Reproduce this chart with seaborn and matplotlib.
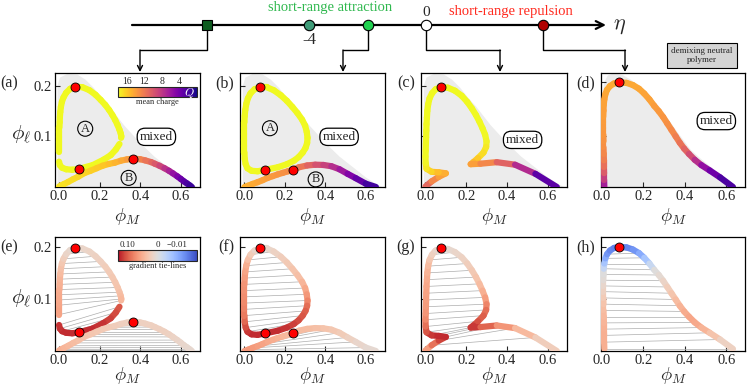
import numpy as np
import matplotlib
matplotlib.use("Agg")
import matplotlib.pyplot as plt
import seaborn as sns
from matplotlib.collections import LineCollection
from matplotlib.colors import Normalize, TwoSlopeNorm
from matplotlib.colorbar import ColorbarBase

nan = np.nan

# ---------------- data ----------------
# eta values of the markers on the top axis
eta_vals = [-7.5, -4, -2, 0, 4]
eta_marker = ["s", "o", "o", "o", "o"]
eta_color = ["#0d5c1f", "#3e9b78", "#1fd14f", "white", "#b00000"]

# column (a)/(e): region A (closed loop), both branches start at the upper critical point
aA_left_phiM = [0.08, 0.055, 0.035, 0.022, 0.014, 0.009, 0.006, 0.004, 0.003, 0.002, 0.002, 0.002, 0.002, 0.002,
                nan, 0.0, 0.004, 0.015, 0.035, 0.065, 0.10]
aA_left_phil = [0.198, 0.194, 0.186, 0.177, 0.168, 0.158, 0.148, 0.138, 0.128, 0.118, 0.108, 0.098, 0.088, 0.07,
                nan, 0.05, 0.043, 0.038, 0.035, 0.034, 0.036]
aA_right_phiM = [0.08, 0.115, 0.15, 0.18, 0.205, 0.228, 0.247, 0.263, 0.277, 0.289, 0.298, 0.304, 0.307, 0.306,
                 nan, 0.298, 0.28, 0.255, 0.22, 0.165, 0.10]
aA_right_phil = [0.198, 0.197, 0.191, 0.182, 0.172, 0.162, 0.152, 0.142, 0.132, 0.122, 0.113, 0.106, 0.1, 0.097,
                 nan, 0.085, 0.074, 0.063, 0.054, 0.043, 0.036]
aA_left_Q = [18] * 21
aA_right_Q = [18] * 21
aA_left_G = [0.01, 0.012, 0.018, 0.025, 0.032, 0.038, 0.043, 0.047, 0.05, 0.052, 0.054, 0.055, 0.057, 0.06,
             nan, 0.115, 0.12, 0.12, 0.12, 0.12, 0.12]
aA_right_G = [0.01, 0.012, 0.015, 0.018, 0.02, 0.022, 0.025, 0.027, 0.03, 0.032, 0.035, 0.038, 0.042, 0.045,
              nan, 0.1, 0.105, 0.11, 0.115, 0.12, 0.12]
# region B (lower dome)
aB_left_phiM = [0.365, 0.335, 0.305, 0.275, 0.245, 0.215, 0.185, 0.155, 0.125, 0.095, 0.07, 0.045, 0.025, 0.01, 0.0]
aB_left_phil = [0.056, 0.0545, 0.052, 0.048, 0.0455, 0.042, 0.037, 0.032, 0.0275, 0.0205, 0.0155, 0.01, 0.006, 0.003, 0.001]
aB_right_phiM = [0.365, 0.40, 0.425, 0.455, 0.472, 0.495, 0.52, 0.542, 0.561, 0.583, 0.60, 0.616, 0.631, 0.645, 0.655]
aB_right_phil = [0.056, 0.0548, 0.0525, 0.049, 0.046, 0.042, 0.037, 0.032, 0.027, 0.021, 0.016, 0.011, 0.007, 0.003, 0.0]
aB_left_Q = [13.5, 14.2, 14.8, 15.2, 15.6, 15.9, 16.1, 16.3, 16.5, 16.7, 16.8, 16.9, 17, 17, 17]
aB_right_Q = [13.5, 12.8, 12.2, 11.2, 10.6, 9.6, 8.3, 7.2, 6.2, 5, 4, 3.3, 2.5, 1.8, 1.2]
aB_left_G = [0.02, 0.02, 0.022, 0.024, 0.025, 0.027, 0.03, 0.032, 0.035, 0.038, 0.04, 0.044, 0.047, 0.05, 0.05]
aB_right_G = [0.02, 0.02, 0.02, 0.02, 0.02, 0.02, 0.02, 0.02, 0.018, 0.016, 0.014, 0.012, 0.011, 0.01, 0.01]
crit_a_phiM = [0.08, 0.10, 0.365]
crit_a_phil = [0.198, 0.036, 0.056]

# column (b)/(f)
bA_left_phiM = [0.076, 0.05, 0.03, 0.017, 0.009, 0.004, 0.001, 0.0, 0.0, 0.0, 0.0, 0.0, 0.0, 0.001, 0.006,
                0.015, 0.035, 0.065, 0.104]
bA_left_phil = [0.197, 0.193, 0.185, 0.175, 0.164, 0.152, 0.14, 0.128, 0.116, 0.104, 0.092, 0.08, 0.068, 0.056, 0.045,
                0.037, 0.032, 0.031, 0.034]
bA_right_phiM = [0.076, 0.11, 0.145, 0.18, 0.21, 0.237, 0.262, 0.285, 0.3, 0.308, 0.312, 0.31, 0.302, 0.288, 0.268,
                 0.245, 0.21, 0.165, 0.104]
bA_right_phil = [0.197, 0.197, 0.191, 0.181, 0.17, 0.158, 0.146, 0.133, 0.121, 0.109, 0.097, 0.087, 0.077, 0.068, 0.059,
                 0.052, 0.045, 0.039, 0.034]
bA_left_Q = [18] * 19
bA_right_Q = [18] * 19
bA_left_G = [0.01, 0.02, 0.03, 0.045, 0.055, 0.06, 0.065, 0.07, 0.07, 0.075, 0.075, 0.08, 0.085, 0.1, 0.11,
             0.12, 0.12, 0.12, 0.12]
bA_right_G = [0.01, 0.012, 0.015, 0.02, 0.025, 0.03, 0.035, 0.04, 0.05, 0.06, 0.07, 0.085, 0.095, 0.1, 0.105,
              0.11, 0.115, 0.12, 0.12]
bB_left_phiM = [0.238, 0.215, 0.19, 0.165, 0.14, 0.115, 0.09, 0.065, 0.04, 0.018, 0.0]
bB_left_phil = [0.034, 0.031, 0.028, 0.025, 0.0215, 0.018, 0.0135, 0.0095, 0.006, 0.0025, 0.0]
bB_right_phiM = [0.238, 0.27, 0.31, 0.35, 0.39, 0.43, 0.47, 0.51, 0.55, 0.6, 0.65]
bB_right_phil = [0.034, 0.039, 0.0425, 0.044, 0.0435, 0.041, 0.035, 0.026, 0.0175, 0.0065, 0.0]
bB_left_Q = [13, 13.2, 13.4, 13.6, 13.8, 14, 14.2, 14.4, 14.6, 14.8, 15]
bB_right_Q = [13, 12.3, 11.2, 10.2, 9.2, 8.1, 6.8, 5.4, 4, 2.5, 1.2]
bB_left_G = [0.04, 0.043, 0.046, 0.05, 0.053, 0.056, 0.06, 0.063, 0.065, 0.065, 0.06]
bB_right_G = [0.04, 0.04, 0.04, 0.038, 0.035, 0.032, 0.028, 0.022, 0.016, 0.01, 0.008]
crit_b_phiM = [0.076, 0.104, 0.238]
crit_b_phil = [0.197, 0.034, 0.034]

# column (c)/(g)
c_left_phiM = [0.074, 0.05, 0.032, 0.02, 0.013, 0.009, 0.007, 0.005, 0.004, 0.003, 0.002, 0.001, 0.0, 0.001, 0.005,
               0.03, 0.065, 0.1, 0.065, 0.03, 0.0]
c_left_phil = [0.197, 0.193, 0.185, 0.175, 0.163, 0.15, 0.137, 0.124, 0.111, 0.098, 0.085, 0.072, 0.06, 0.047, 0.036,
               0.03, 0.029, 0.027, 0.02, 0.011, 0.001]
c_right_phiM = [0.074, 0.11, 0.145, 0.178, 0.205, 0.228, 0.248, 0.265, 0.28, 0.293, 0.3, 0.298, 0.285, 0.258, 0.235,
                0.222, 0.27, 0.35, 0.44, 0.54, 0.645]
c_right_phil = [0.197, 0.196, 0.19, 0.18, 0.168, 0.155, 0.142, 0.129, 0.116, 0.103, 0.09, 0.079, 0.068, 0.057, 0.049,
                0.045, 0.046, 0.049, 0.044, 0.026, 0.0]
c_left_Q = [18] * 13 + [17.5, 17, 16, 15, 14.5, 13.5, 12, 10]
c_right_Q = [18] * 10 + [17.8, 17.5, 17, 16.5, 15.5, 14.5, 13.5, 12, 9.5, 5, 1]
c_left_G = [0.01, 0.015, 0.025, 0.035, 0.045, 0.05, 0.055, 0.058, 0.06, 0.062, 0.065, 0.07, 0.08, 0.095, 0.11,
            0.12, 0.12, 0.12, 0.1, 0.075, 0.05]
c_right_G = [0.01, 0.01, 0.012, 0.015, 0.02, 0.025, 0.03, 0.035, 0.045, 0.055, 0.07, 0.085, 0.095, 0.1, 0.11,
             0.12, 0.11, 0.08, 0.055, 0.03, 0.015]
crit_c_phiM = [0.074]
crit_c_phil = [0.197]

# column (d)/(h): demixing neutral polymer
d_left_phiM = [0.085, 0.06, 0.04, 0.026, 0.018, 0.013, 0.01, 0.009, 0.008, 0.008, 0.008, 0.008, 0.009, 0.009, 0.01,
               0.011, 0.011, 0.012, 0.012, 0.013]
d_left_phil = [0.2, 0.198, 0.193, 0.186, 0.178, 0.168, 0.158, 0.147, 0.136, 0.125, 0.114, 0.102, 0.09, 0.078, 0.066,
               0.054, 0.042, 0.03, 0.017, 0.004]
d_right_phiM = [0.085, 0.12, 0.15, 0.18, 0.205, 0.23, 0.253, 0.275, 0.296, 0.316, 0.336, 0.356, 0.376, 0.397, 0.42,
                0.448, 0.48, 0.52, 0.57, 0.632]
d_right_phil = [0.2, 0.199, 0.195, 0.188, 0.179, 0.168, 0.156, 0.146, 0.135, 0.123, 0.111, 0.099, 0.087, 0.076, 0.066,
                0.055, 0.045, 0.035, 0.022, 0.004]
d_left_Q = [14.5] * 4 + [14.3, 14.2, 14.1, 14, 14, 13.8, 13.7, 13.5, 13.3, 13, 12.5, 12, 11, 9.5, 7.5, 5.5]
d_right_Q = [14.5, 14.5, 14.5, 14.4, 14.3, 14.2, 14, 13.8, 13.6, 13.3, 13, 12.6, 12, 11.3, 10.3, 8.5, 6.5, 4.5, 3, 1.5]
d_left_G = [-0.015, -0.015, -0.014, -0.012, -0.009, -0.005, -0.002, 0.002, 0.008, 0.015, 0.022, 0.03, 0.036, 0.04,
            0.044, 0.047, 0.05, 0.05, 0.05, 0.05]
d_right_G = [-0.015, -0.015, -0.014, -0.012, -0.009, -0.005, -0.001, 0.004, 0.012, 0.02, 0.028, 0.036, 0.044, 0.05,
             0.055, 0.057, 0.052, 0.04, 0.025, 0.012]
crit_d_phiM = [0.085]
crit_d_phil = [0.2]

# grey unstable envelope (row 1)
env_abc_phiM = [-0.008, -0.008, 0.005, 0.04, 0.09, 0.13, 0.17, 0.21, 0.25, 0.32, 0.40, 0.47, 0.54, 0.60, 0.65, 0.68]
env_abc_phil = [0.0, 0.2, 0.216, 0.223, 0.222, 0.212, 0.196, 0.176, 0.158, 0.122, 0.087, 0.06, 0.038, 0.019, 0.006, 0.0]
env_d_phiM = [0.002, 0.003, 0.012, 0.03, 0.06, 0.1, 0.14, 0.22, 0.30, 0.37, 0.43, 0.48, 0.53, 0.59, 0.64, 0.655]
env_d_phil = [0.0, 0.17, 0.2, 0.213, 0.217, 0.214, 0.205, 0.18, 0.142, 0.104, 0.073, 0.056, 0.04, 0.022, 0.006, 0.0]

q_ticks = [16, 12, 8, 4]
g_ticks = [0.10, 0, -0.01]
g_tick_labels = ["0.10", "0", "\u22120.01"]

# ---------------- style ----------------
sns.set_style("ticks")
plt.rcParams["font.family"] = ["Liberation Serif", "DejaVu Serif"]
plt.rcParams["mathtext.fontset"] = "cm"

W, H = 747, 388
fig = plt.figure(figsize=(W / 100, H / 100), dpi=100)


def rect(x0, y0, x1, y1):
    return [x0 / W, 1 - y1 / H, (x1 - x0) / W, (y1 - y0) / H]


q_cmap, q_norm = plt.get_cmap("plasma"), Normalize(0, 18)
g_cmap, g_norm = plt.get_cmap("coolwarm"), TwoSlopeNorm(vcenter=0, vmin=-0.02, vmax=0.13)


def draw_pair(ax, lx, ly, rx, ry, lv, rv, cmap, norm, ties):
    lx, ly, rx, ry, lv, rv = [np.asarray(a, float) for a in (lx, ly, rx, ry, lv, rv)]
    if ties:
        tl = [[(lx[i], ly[i]), (rx[i], ry[i])] for i in range(1, len(lx))
              if not np.isnan([lx[i], rx[i]]).any()]
        ax.add_collection(LineCollection(tl, colors="0.68", linewidths=0.5, zorder=2))
    x = np.r_[lx[::-1], rx[1:]]
    y = np.r_[ly[::-1], ry[1:]]
    v = np.r_[lv[::-1], rv[1:]]
    pts = np.column_stack([x, y])
    segs = np.stack([pts[:-1], pts[1:]], axis=1)
    sv = 0.5 * (v[:-1] + v[1:])
    ok = ~np.isnan(segs).any(axis=(1, 2))
    ax.add_collection(LineCollection(segs[ok], colors=cmap(norm(sv[ok])), linewidths=4.5,
                                     capstyle="round", joinstyle="round", zorder=3))


columns = [
    dict(regions=[(aA_left_phiM, aA_left_phil, aA_right_phiM, aA_right_phil, aA_left_Q, aA_right_Q, aA_left_G, aA_right_G),
                  (aB_left_phiM, aB_left_phil, aB_right_phiM, aB_right_phil, aB_left_Q, aB_right_Q, aB_left_G, aB_right_G)],
         crit=(crit_a_phiM, crit_a_phil), env=(env_abc_phiM, env_abc_phil),
         letters=[("A", 0.129, 0.115), ("B", 0.343, 0.018)], mixed=(0.48, 0.099),
         xlim=(-0.02, 0.695), ylim1=(0, 0.225)),
    dict(regions=[(bA_left_phiM, bA_left_phil, bA_right_phiM, bA_right_phil, bA_left_Q, bA_right_Q, bA_left_G, bA_right_G),
                  (bB_left_phiM, bB_left_phil, bB_right_phiM, bB_right_phil, bB_left_Q, bB_right_Q, bB_left_G, bB_right_G)],
         crit=(crit_b_phiM, crit_b_phil), env=(env_abc_phiM, env_abc_phil),
         letters=[("A", 0.126, 0.116), ("B", 0.352, 0.015)], mixed=(0.468, 0.099),
         xlim=(-0.022, 0.695), ylim1=(0, 0.225)),
    dict(regions=[(c_left_phiM, c_left_phil, c_right_phiM, c_right_phil, c_left_Q, c_right_Q, c_left_G, c_right_G)],
         crit=(crit_c_phiM, crit_c_phil), env=(env_abc_phiM, env_abc_phil),
         letters=[], mixed=(0.477, 0.093), xlim=(-0.022, 0.695), ylim1=(0, 0.225)),
    dict(regions=[(d_left_phiM, d_left_phil, d_right_phiM, d_right_phil, d_left_Q, d_right_Q, d_left_G, d_right_G)],
         crit=(crit_d_phiM, crit_d_phil), env=(env_d_phiM, env_d_phil),
         letters=[], mixed=(0.552, 0.1275), xlim=(-0.003, 0.69), ylim1=(0.004, 0.2175)),
]

cols_px = [(55, 200), (240, 385), (421, 567), (601, 745)]
rows_px = [(73, 187), (237, 351)]
panel_names = ["abcd", "efgh"]

for r, (y0, y1) in enumerate(rows_px):
    for c, (x0, x1) in enumerate(cols_px):
        col = columns[c]
        ax = fig.add_axes(rect(x0, y0, x1, y1))
        ax.set_facecolor("white")
        if r == 0:
            ax.fill(col["env"][0], col["env"][1], color="#ececec", lw=0, zorder=0)
        for reg in col["regions"]:
            lx, ly, rx, ry, lq, rq, lg, rg = reg
            if r == 0:
                draw_pair(ax, lx, ly, rx, ry, lq, rq, q_cmap, q_norm, ties=False)
            else:
                draw_pair(ax, lx, ly, rx, ry, lg, rg, g_cmap, g_norm, ties=True)
        sns.scatterplot(x=col["crit"][0], y=col["crit"][1], ax=ax, s=42, color="#ff0000",
                        edgecolor="black", linewidth=0.6, zorder=5)
        if r == 0:
            for letter, lxp, lyp in col["letters"]:
                ax.text(lxp, lyp, letter, ha="center", va="center", fontsize=9, zorder=6,
                        bbox=dict(boxstyle="circle,pad=0.12", fc="none", ec="black", lw=0.8))
            ax.text(col["mixed"][0], col["mixed"][1], "mixed", ha="center", va="center", fontsize=9.5,
                    zorder=6, bbox=dict(boxstyle="round,pad=0.2,rounding_size=0.6", fc="white", ec="black", lw=0.9))
            ax.set_ylim(*col["ylim1"])
        else:
            ax.set_ylim(0, 0.219)
        ax.set_xlim(*col["xlim"])
        ax.set_xticks([0, 0.2, 0.4, 0.6])
        ax.set_xticklabels(["0.0", "0.2", "0.4", "0.6"])
        ax.set_yticks([0.1, 0.2])
        if c == 0:
            ax.set_yticklabels(["0.1", "0.2"])
        else:
            ax.set_yticklabels([])
        ax.tick_params(direction="in", length=3.5, width=0.8, labelsize=10.5, pad=2)
        for s in ax.spines.values():
            s.set_linewidth(0.9)
            s.set_color("black")
        ax.set_xlabel(r"$\phi_M$", fontsize=13.5, labelpad=2 if r == 0 else -1)
        lab = "(" + panel_names[r][c] + ")"
        lx_px = 18 if c == 0 else x0 - 6
        fig.text(lx_px / W, 1 - (y0 + 10) / H, lab, ha="right", va="center", fontsize=11.5)

# y labels
for yc in (135, 299):
    fig.text(21 / W, 1 - yc / H, r"$\phi_\ell$", ha="center", va="center", fontsize=15)

# colour bars inside (a) and (e)
cax = fig.add_axes(rect(118, 87, 197, 97))
cb = ColorbarBase(cax, cmap=q_cmap, norm=q_norm, orientation="horizontal")
cax.invert_xaxis()
cb.set_ticks(q_ticks)
cax.xaxis.set_ticks_position("top")
cax.tick_params(labelsize=7, length=2, width=0.6, pad=0.5, direction="in")
cax.set_xlabel("mean charge", fontsize=6, labelpad=1)
cax.xaxis.set_label_position("bottom")
cb.outline.set_linewidth(0.8)
cax.text(0.97, 0.45, r"$Q$", transform=cax.transAxes, color="white", fontsize=8.5, ha="right", va="center")

gax = fig.add_axes(rect(118, 250, 197, 261))
gb = ColorbarBase(gax, cmap=g_cmap, norm=g_norm, orientation="horizontal")
gax.invert_xaxis()
gb.set_ticks(g_ticks)
gb.set_ticklabels(g_tick_labels)
gax.xaxis.set_ticks_position("top")
gax.tick_params(labelsize=6.5, length=2, width=0.6, pad=0.5, direction="in")
gax.set_xlabel("gradient tie-lines", fontsize=6, labelpad=1)
gax.xaxis.set_label_position("bottom")
gb.outline.set_linewidth(0.8)

# ---------------- top eta axis ----------------
ov = fig.add_axes([0, 0, 1, 1], zorder=10)
ov.set_xlim(0, W)
ov.set_ylim(H, 0)
ov.axis("off")
ov.patch.set_alpha(0)

y_axis = 25
ov.annotate("", xy=(606, y_axis), xytext=(132, y_axis),
            arrowprops=dict(arrowstyle="->", lw=1.6, color="black", mutation_scale=14, shrinkA=0, shrinkB=0))
ov.text(613, y_axis + 1, r"$\eta$", fontsize=16, ha="left", va="center")


def eta_px(e):
    return 426 + 29.25 * e


for e, m, col in zip(eta_vals, eta_marker, eta_color):
    ov.plot(eta_px(e), y_axis, marker=m, ms=7.5 if m == "o" else 7, mfc=col, mec="black", mew=0.8, zorder=5)

targets = {0: 140, 2: 343, 3: 500, 4: 625}
for i, tx in targets.items():
    mx = eta_px(eta_vals[i])
    ov.plot([mx, mx, tx], [y_axis + 4, 50, 50], color="black", lw=1.0, zorder=3)
    ov.annotate("", xy=(tx, 72), xytext=(tx, 50),
                arrowprops=dict(arrowstyle="->", lw=1.0, color="black", mutation_scale=9, shrinkA=0, shrinkB=0))

ov.text(eta_px(-4), 40, "-4", fontsize=12, ha="center", va="center")
ov.text(eta_px(0), 12, "0", fontsize=11, ha="center", va="center")
ov.text(330, 7, "short-range attraction", fontsize=10.5, color="#2fb84e", ha="center", va="center")
ov.text(511, 11, "short-range repulsion", fontsize=10.5, color="#ff2a1f", ha="center", va="center")
ov.text(702, 55.5, "demixing neutral\npolymer", fontsize=6.5, ha="center", va="center", linespacing=1.05,
        bbox=dict(boxstyle="square,pad=0.45", fc="#d4d4d4", ec="black", lw=0.8))

fig.savefig("out.png", dpi=100)
